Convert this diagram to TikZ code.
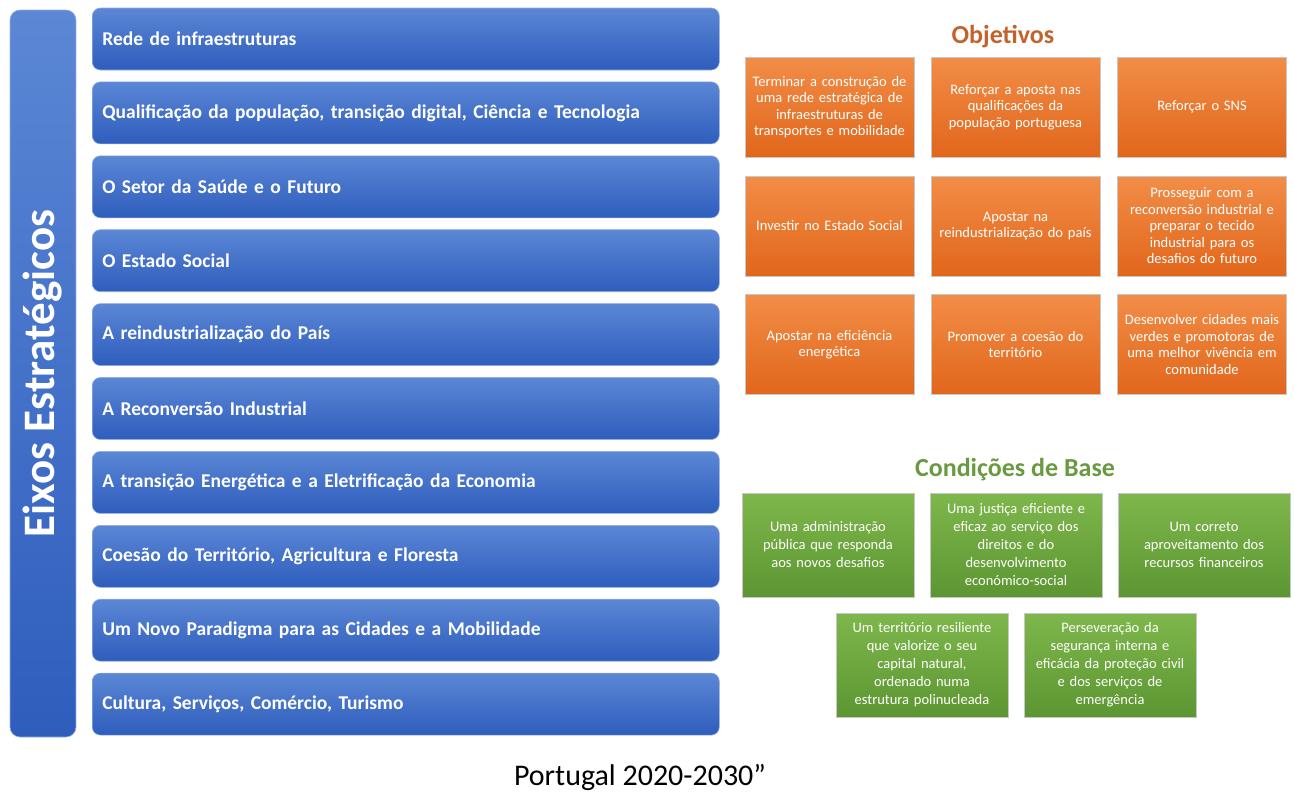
\documentclass[tikz,border=0pt]{standalone}
\usepackage{fontspec}
\setmainfont{Carlito}

\definecolor{axisTop}{HTML}{5B87D5}
\definecolor{axisBot}{HTML}{2E5DBD}
\definecolor{goalTop}{HTML}{F28D47}
\definecolor{goalBot}{HTML}{E1661B}
\definecolor{baseTop}{HTML}{7EB74B}
\definecolor{baseBot}{HTML}{5C9632}
\definecolor{goalHead}{HTML}{C3632B}
\definecolor{baseHead}{HTML}{6A9A40}

\begin{document}
\begin{tikzpicture}[x=1pt,y=-1pt,
    axis/.style={rounded corners=8pt, top color=axisTop, bottom color=axisBot,
      draw=axisBot!50!white, line width=0.6pt, text=white, anchor=west,
      font=\fontsize{19.5}{22}\selectfont\bfseries, align=left,
      minimum height=62, text width=607, inner xsep=10},
    spine/.style={axis, anchor=center, align=center, text width=,
      rounded corners=10pt, minimum width=727, minimum height=66,
      font=\fontsize{45}{48}\selectfont\bfseries},
    goal/.style={top color=goalTop, bottom color=goalBot, draw=black!22,
      line width=0.8pt, text=white, font=\fontsize{14.5}{16.5}\selectfont,
      align=center, minimum width=169, minimum height=100,
      text width=165, inner xsep=2},
    base/.style={goal, top color=baseTop, bottom color=baseBot,
      font=\fontsize{14.5}{18}\selectfont, minimum width=172,
      minimum height=104, text width=168},
    head/.style={font=\fontsize{26}{30}\selectfont\bfseries}]
  \useasboundingbox (0,0) rectangle (1294,793);

  % eixos
  \node[spine, rotate=90] (eixos) at (43,373.5) {Eixos Estratégicos};
  \foreach \i/\txt in {0/Rede de infraestruturas,
      1/{Qualificação da população, transição digital, Ciência e Tecnologia},
      2/O Setor da Saúde e o Futuro,
      3/O Estado Social,
      4/A reindustrialização do País,
      5/A Reconversão Industrial,
      6/A transição Energética e a Eletrificação da Economia,
      7/{Coesão do Território, Agricultura e Floresta},
      8/Um Novo Paradigma para as Cidades e a Mobilidade,
      9/{Cultura, Serviços, Comércio, Turismo}}
    \node[axis] (axis\i) at (92,{39+73.9*\i}) {\txt};

  % objetivos
  \node[head, text=goalHead] (goalhead) at (1003,37) {Objetivos};
  \node[goal] (goal1) at (829.5,107) {Terminar a construção de\\uma rede estratégica de\\infraestruturas de\\transportes e mobilidade};
  \node[goal] (goal2) at (1015.5,107) {Reforçar a aposta nas\\qualificações da\\população portuguesa};
  \node[goal] (goal3) at (1202,107) {Reforçar o SNS};
  \node[goal] (goal4) at (829.5,226) {Investir no Estado Social};
  \node[goal] (goal5) at (1015.5,226) {Apostar na\\reindustrialização do país};
  \node[goal] (goal6) at (1202,226) {Prosseguir com a\\reconversão industrial e\\preparar o tecido\\industrial para os\\desafios do futuro};
  \node[goal] (goal7) at (829.5,344.5) {Apostar na eficiência\\energética};
  \node[goal] (goal8) at (1015.5,344.5) {Promover a coesão do\\território};
  \node[goal] (goal9) at (1202,344.5) {Desenvolver cidades mais\\verdes e promotoras de\\uma melhor vivência em\\comunidade};

  % condicoes de base
  \node[head, text=baseHead] (basehead) at (1015,470) {Condições de Base};
  \node[base] (base1) at (828,545) {Uma administração\\pública que responda\\aos novos desafios};
  \node[base] (base2) at (1016,545) {Uma justiça eficiente e\\eficaz ao serviço dos\\direitos e do\\desenvolvimento\\económico-social};
  \node[base] (base3) at (1204,545) {Um correto\\aproveitamento dos\\recursos financeiros};
  \node[base] (base4) at (922,665) {Um território resiliente\\que valorize o seu\\capital natural,\\ordenado numa\\estrutura polinucleada};
  \node[base] (base5) at (1110,665) {Perseveração da\\segurança interna e\\eficácia da proteção civil\\e dos serviços de\\emergência};

  \node[font=\fontsize{30}{33}\selectfont] (caption) at (640,777) {Portugal 2020-2030”};
\end{tikzpicture}
\end{document}
